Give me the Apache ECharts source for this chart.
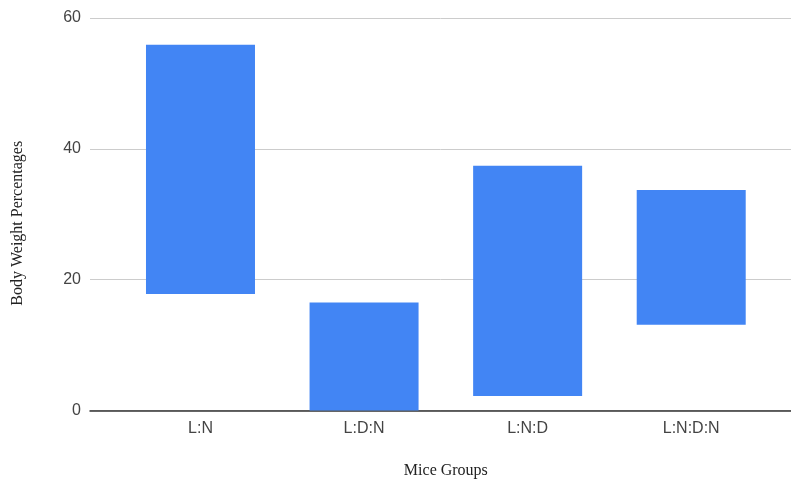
<!DOCTYPE html>
<html>
<head>
<meta charset="utf-8">
<script src="https://cdn.jsdelivr.net/npm/echarts@6/dist/echarts.min.js"></script>
<style>
  html, body { margin: 0; padding: 0; background: #fff; }
  #chart { width: 791px; height: 479px; }
</style>
</head>
<body>
<div id="chart"></div>
<script>
// Mice groups and the low/high body-weight percentage of each floating bar
const categories = ['L:N', 'L:D:N', 'L:N:D', 'L:N:D:N'];
const lowValues  = [17.8, 0, 2.2, 13.1];
const highValues = [55.9, 16.5, 37.4, 33.7];
const yTicks = [0, 20, 40, 60];

const spanValues = highValues.map((h, i) => +(h - lowValues[i]).toFixed(2));

const chart = echarts.init(document.getElementById('chart'));

const labelFont = { fontFamily: 'Liberation Sans, Arial, sans-serif', fontSize: 16, color: '#444' };
const titleFont = { fontFamily: 'Liberation Serif, Times New Roman, serif', fontSize: 16, color: '#222' };

chart.setOption({
  animation: false,
  backgroundColor: '#fff',
  grid: [
    // frame for gridlines and the baseline
    { left: 90, right: 0, top: 18, bottom: 68.5, containLabel: false, outerBoundsMode: 'none' },
    // frame holding the category bars
    { left: 118.7, right: 18, top: 18, bottom: 68.5, containLabel: false, outerBoundsMode: 'none' }
  ],
  xAxis: [
    {
      gridIndex: 0, type: 'value', min: 0, max: 1,
      axisLine: { show: true, onZero: false, lineStyle: { color: '#333', width: 1.5 } },
      axisTick: { show: false }, axisLabel: { show: false }, splitLine: { show: false }
    },
    {
      gridIndex: 1, type: 'category', data: categories,
      axisLine: { show: false }, axisTick: { show: false },
      axisLabel: Object.assign({ margin: 10 }, labelFont),
      name: 'Mice Groups', nameLocation: 'middle', nameGap: 52,
      nameTextStyle: titleFont
    }
  ],
  yAxis: [
    {
      gridIndex: 0, type: 'value', min: yTicks[0], max: yTicks[yTicks.length - 1], interval: 20,
      axisLine: { show: false }, axisTick: { show: false },
      axisLabel: Object.assign({ margin: 9 }, labelFont),
      splitLine: { show: true, lineStyle: { color: '#ccc', width: 1 } },
      name: 'Body Weight Percentages', nameLocation: 'middle', nameGap: 64,
      nameTextStyle: Object.assign({ padding: [0, 0, 0, -18] }, titleFont)
    },
    {
      gridIndex: 1, type: 'value', min: yTicks[0], max: yTicks[yTicks.length - 1], interval: 20,
      show: false
    }
  ],
  series: [
    {
      type: 'bar', xAxisIndex: 1, yAxisIndex: 1, stack: 'range',
      data: lowValues, barWidth: 109,
      itemStyle: { color: 'transparent' }, silent: true
    },
    {
      type: 'bar', xAxisIndex: 1, yAxisIndex: 1, stack: 'range',
      data: spanValues, barWidth: 109,
      itemStyle: { color: '#4285f4' }
    }
  ]
});
</script>
</body>
</html>
